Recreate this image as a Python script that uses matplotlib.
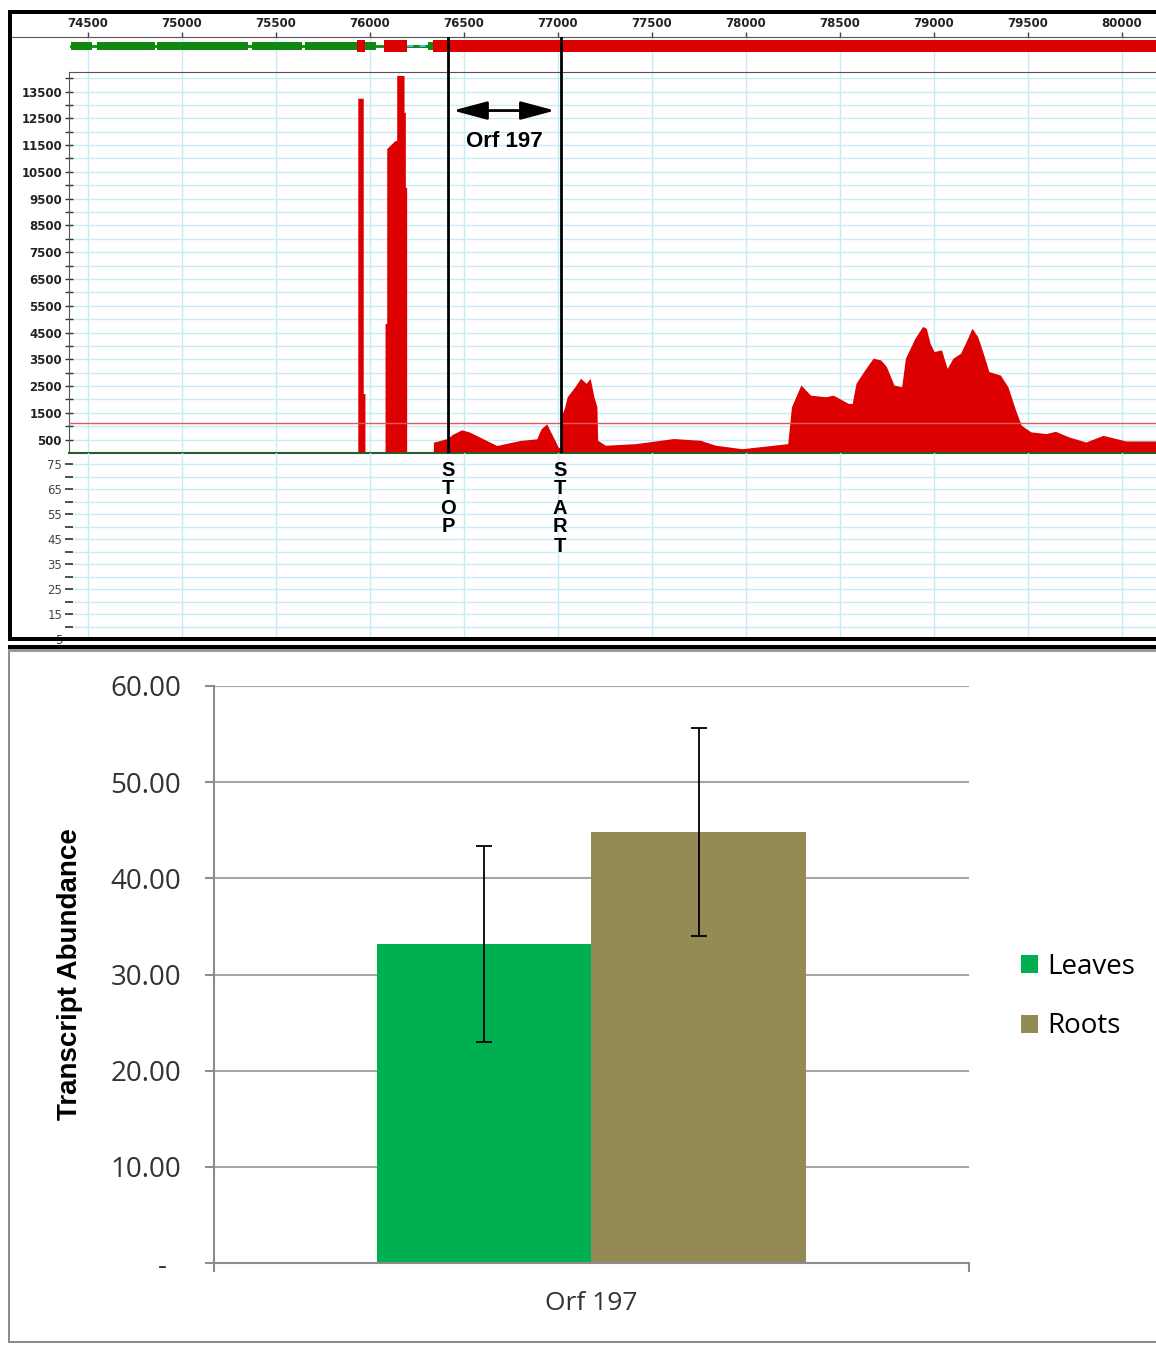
import matplotlib
matplotlib.use("Agg")
import matplotlib.pyplot as plt
from matplotlib.patches import Rectangle, Patch
from matplotlib.ticker import FixedLocator

plt.rcParams["font.family"] = "DejaVu Sans"

W, H = 1156, 1345

# ---- genome browser panel data ----
RULER_TICKS = list(range(74500, 80001, 500))
GREEN_START = [74408, 74550, 74869, 75373, 75652, 75973, 76309]
GREEN_END   = [74520, 74855, 75353, 75638, 75932, 76034, 76337]
GREEN_LINE  = [74408, 76309]
RED_START   = [75932, 76074, 76335]
RED_END     = [75973, 76197, 80400]
DASHED_SPAN = [76197, 76309]

COV_POS = [74399, 75935, 75935, 75964, 75964, 75973, 75973,
           76080, 76080, 76089, 76089, 76133, 76142, 76142, 76181, 76181, 76188, 76188, 76195, 76195,
           76337, 76337, 76410, 76440, 76488, 76530, 76585, 76674, 76740, 76798, 76887, 76910,
           76940, 76966, 76984, 77001, 77012, 77019, 77035, 77049, 77090, 77120, 77150, 77171,
           77191, 77207, 77211, 77252, 77413, 77615, 77757, 77838, 77979, 78222, 78242, 78292,
           78343, 78424, 78464, 78545, 78565, 78585, 78626, 78676, 78717, 78747, 78787, 78828,
           78848, 78899, 78939, 78959, 78979, 79000, 79040, 79070, 79101, 79141, 79171, 79202,
           79232, 79262, 79292, 79353, 79393, 79434, 79464, 79515, 79596, 79646, 79717, 79808,
           79899, 80020, 80121, 80200]
COV_VAL = [0, 0, 13250, 13250, 2220, 2220, 0,
           0, 4840, 4840, 11370, 11670, 11670, 14100, 14100, 12720, 12720, 9920, 9920, 0,
           0, 400, 540, 700, 866, 780, 590, 280, 380, 467, 530, 904,
           1090, 717, 467, 217, 200, 1400, 1700, 2100, 2475, 2790, 2600, 2790,
           2100, 1725, 475, 290, 350, 540, 475, 290, 160, 350, 1725, 2540,
           2160, 2100, 2160, 1850, 1850, 2600, 3040, 3540, 3475, 3225, 2540, 2475,
           3540, 4290, 4725, 4660, 4100, 3790, 3850, 3160, 3540, 3725, 4160, 4660,
           4350, 3725, 3040, 2910, 2475, 1600, 1040, 790, 725, 810, 600, 410,
           660, 450, 450, 450]
THRESHOLD = 1136
STOP_POS = 76415
START_POS = 77016
ARROW_SPAN = [76441, 76984]
ARROW_Y = 12790
ORF_LABEL = "Orf 197"
COV_MAJOR = list(range(500, 13501, 1000))
COV_MINOR = list(range(1000, 14001, 1000))
LOW_MAJOR = list(range(5, 76, 10))
LOW_MINOR = list(range(10, 71, 10))

# ---- bar chart data ----
CATEGORY = "Orf 197"
SERIES = ["Leaves", "Roots"]
MEANS = [33.2, 44.8]
ERRS = [10.2, 10.8]
BAR_COLORS = ["#00B050", "#948A54"]
Y_TICKS = [0, 10, 20, 30, 40, 50, 60]

GRID = "#c8ecf6"
RED = "#dc0000"
GREEN = "#118811"


def bp_at(px):
    return 74500 + (px - 88) * 5500 / 1034


fig = plt.figure(figsize=(W / 100, H / 100), dpi=100)


def px_axes(x0, y0, x1, y1):
    ax = fig.add_axes([x0 / W, 1 - y1 / H, (x1 - x0) / W, (y1 - y0) / H])
    ax.patch.set_visible(False)
    return ax


def band(x0, y0, x1, y1, c):
    fig.add_artist(Rectangle((x0 / W, 1 - y1 / H), (x1 - x0) / W, (y1 - y0) / H,
                             transform=fig.transFigure, facecolor=c,
                             edgecolor="none", zorder=5))


# gene track + ruler
ax_g = px_axes(12, 37, 1156, 72)
ax_g.set_xlim(bp_at(12), bp_at(1156))
ax_g.set_ylim(35, 0)
ax_g.set_xticks(RULER_TICKS)
ax_g.xaxis.set_ticks_position("top")
ax_g.tick_params(axis="x", direction="out", length=3.6, width=1, color="#444",
                 pad=1.5, labelsize=8.5, labelcolor="#222")
for lab in ax_g.get_xticklabels():
    lab.set_fontweight("bold")
ax_g.set_yticks([])
for s in ["left", "right", "bottom"]:
    ax_g.spines[s].set_visible(False)
ax_g.spines["top"].set_color("#555")
ax_g.grid(axis="x", color=GRID, lw=1)
ax_g.set_axisbelow(True)
ax_g.plot(GREEN_LINE, [9, 9], color=GREEN, lw=2, zorder=2)
ax_g.plot(DASHED_SPAN, [9, 9], color=GREEN, lw=2, zorder=2)
ax_g.plot(DASHED_SPAN, [9, 9], color="#3cc0e0", lw=1.5, ls=(0, (3, 3)), zorder=2)
ax_g.barh(9, [e - s for s, e in zip(GREEN_START, GREEN_END)], left=GREEN_START,
          height=8, color=GREEN, zorder=3)
ax_g.barh(9, [e - s for s, e in zip(RED_START, RED_END)], left=RED_START,
          height=11.5, color=RED, zorder=3)
for p in (STOP_POS, START_POS):
    ax_g.axvline(p, color="black", lw=2, zorder=4)

# coverage
ax_c = px_axes(69, 72, 1156, 453)
ax_c.set_xlim(bp_at(69), bp_at(1156))
ax_c.set_ylim(0, 14230)
ax_c.fill_between(COV_POS, COV_VAL, 0, color=RED, lw=0, zorder=2)
ax_c.axhline(THRESHOLD, color="#e05a5a", lw=1, zorder=3)
for p in (STOP_POS, START_POS):
    ax_c.axvline(p, color="black", lw=2, zorder=4)
ax_c.set_xticks(RULER_TICKS)
ax_c.yaxis.set_major_locator(FixedLocator(COV_MAJOR))
ax_c.yaxis.set_minor_locator(FixedLocator(COV_MINOR))
ax_c.tick_params(axis="x", bottom=False, labelbottom=False)
ax_c.tick_params(axis="y", which="both", direction="inout", length=6, width=1,
                 color="#333", labelsize=8.5, labelcolor="#222", pad=2)
for lab in ax_c.get_yticklabels():
    lab.set_fontweight("bold")
ax_c.spines["right"].set_visible(False)
for s in ["left", "top"]:
    ax_c.spines[s].set_color("#555")
ax_c.spines["bottom"].set_color("#2b5a2b")
ax_c.spines["bottom"].set_linewidth(1.5)
ax_c.grid(which="both", color=GRID, lw=1)
ax_c.set_axisbelow(True)
ax_c.annotate("", xy=(ARROW_SPAN[1], ARROW_Y), xytext=(ARROW_SPAN[0], ARROW_Y),
              arrowprops=dict(arrowstyle="<|-|>,head_length=1.5,head_width=0.4",
                              mutation_scale=14, lw=2, color="black",
                              shrinkA=0, shrinkB=0), zorder=5)
ax_c.text(sum(ARROW_SPAN) / 2, 11640, ORF_LABEL, ha="center", va="center",
          fontsize=16, fontweight="bold", family="Liberation Sans", zorder=5)

# empty lower track
ax_l = px_axes(69, 453, 1156, 640)
ax_l.set_xlim(bp_at(69), bp_at(1156))
ax_l.set_ylim(4.6, 79.4)
ax_l.set_xticks(RULER_TICKS)
ax_l.yaxis.set_major_locator(FixedLocator(LOW_MAJOR))
ax_l.yaxis.set_minor_locator(FixedLocator(LOW_MINOR))
ax_l.tick_params(axis="x", bottom=False, labelbottom=False)
ax_l.tick_params(axis="y", which="both", direction="inout", length=6, width=1.2,
                 color="#333", labelsize=8.5, labelcolor="#444", pad=2)
for s in ax_l.spines.values():
    s.set_visible(False)
ax_l.grid(which="both", color=GRID, lw=1)

for word, xc in (("STOP", 448), ("START", 560)):
    for i, ch in enumerate(word):
        fig.text(xc / W, 1 - (470 + 19 * i) / H, ch, ha="center", va="center",
                 fontsize=14.5, fontweight="bold", family="Liberation Sans")

# ---- bar chart ----
ax_b = px_axes(214, 686, 969, 1263)
ax_b.set_xlim(0, 1)
ax_b.set_ylim(0, 60)
width = 215 / 755
offsets = [-width / 2, width / 2]
handles = []
for name, m, e, c, off in zip(SERIES, MEANS, ERRS, BAR_COLORS, offsets):
    ax_b.bar(0.5 + off, m, width, color=c, yerr=e, zorder=2,
             error_kw=dict(ecolor="black", elinewidth=1.3, capsize=6, capthick=1.3))
    handles.append(Patch(facecolor=c, edgecolor="none"))

ylabels = [("-  " if v == 0 else f"{v:.2f}") for v in Y_TICKS]
ax_b.set_yticks(Y_TICKS, ylabels, family="Open Sans", fontsize=20, color="#333")
ax_b.set_xticks([0, 1], ["", ""])
ax_b.set_xticks([0.5], [CATEGORY], minor=True, family="Open Sans", fontsize=19, color="#333")
ax_b.tick_params(axis="y", direction="out", length=6.5, width=1.5, color="#8c8c8c", pad=17)
ax_b.tick_params(axis="x", which="major", direction="out", length=6.5, width=1.5, color="#8c8c8c")
ax_b.tick_params(axis="x", which="minor", length=0, pad=20)
ax_b.grid(axis="y", color="#a6a6a6", lw=1.5, zorder=0)
ax_b.set_axisbelow(True)
for s in ["top", "right"]:
    ax_b.spines[s].set_visible(False)
for s in ["left", "bottom"]:
    ax_b.spines[s].set_color("#8c8c8c")
    ax_b.spines[s].set_linewidth(1.5)

ax_b.legend(handles, SERIES, loc="center left",
            bbox_to_anchor=(1021 / W, 1 - 996.5 / H), bbox_transform=fig.transFigure,
            frameon=False, prop=dict(family="Open Sans", size=20),
            handlelength=0.6, handleheight=0.6, handletextpad=0.35,
            labelspacing=1.15, borderpad=0, borderaxespad=0)

fig.text(70 / W, 1 - 974 / H, "Transcript Abundance", rotation=90, ha="center",
         va="center", fontsize=20, fontweight="bold", family="Liberation Sans")

# frames
band(8, 10, 12, 641, "black")
band(8, 10, 1156, 14, "black")
band(8, 637, 1156, 641, "black")
band(8, 645, 1156, 649, "black")
band(8, 649, 1156, 652, "#9a9a9a")
band(8, 652, 10, 1343, "#8c8c8c")
band(8, 1341, 1156, 1343, "#8c8c8c")

fig.savefig("out.png", dpi=100)
